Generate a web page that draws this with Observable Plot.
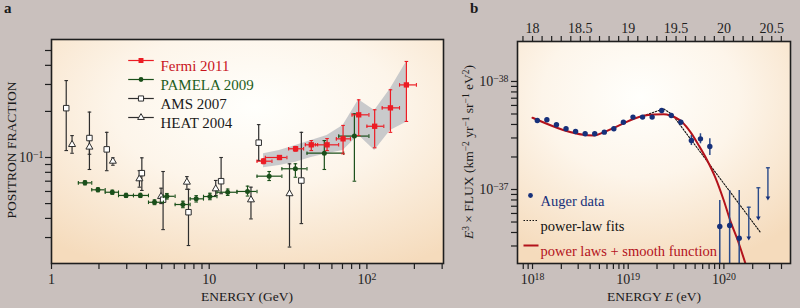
<!DOCTYPE html>
<html><head><meta charset="utf-8">
<script src="https://cdn.jsdelivr.net/npm/d3@7"></script>
<script src="https://cdn.jsdelivr.net/npm/@observablehq/plot@0.6"></script>
<style>
html,body{margin:0;padding:0;background:#c9c0bd;}
#wrap{position:relative;width:800px;height:308px;background:#c9c0bd;font-family:"Liberation Serif",serif;overflow:hidden;}
#wrap svg{position:absolute;top:0;}
.abs{position:absolute;white-space:nowrap;color:#1a1a1a;font-size:13.5px;line-height:1;}
.rot{transform:translate(-50%,-50%) rotate(-90deg);}
.ctr{transform:translate(-50%,-50%);}
sup{font-size:70%;line-height:0;vertical-align:0.45em;}
</style></head><body><div id="wrap"></div>
<script>
// ---------------- Panel a data ----------------
const amsE  = [1.24, 1.74, 2.24, 3.74, 5.1, 7.39, 11.9, 20.6, 38.4];
const amsV  = [0.210, 0.134, 0.113, 0.079, 0.053, 0.0439, 0.070, 0.125, 0.0707];
const amsLo = [0.111, 0.0835, 0.082, 0.0609, 0.0338, 0.0266, 0.058, 0.0956, 0.037];
const amsHi = [0.318, 0.198, 0.146, 0.0995, 0.081, 0.062, 0.1, 0.164, 0.146];

const heatE  = [1.35, 1.74, 2.45, 3.61, 4.95, 7.22, 11.0, 18.4, 32.3];
const heatV  = [0.1216, 0.117, 0.0946, 0.0726, 0.0556, 0.069, 0.0624, 0.0529, 0.058];
const heatLo = [0.1066, 0.105, 0.089, 0.064, 0.050, 0.062, 0.0564, 0.0397, 0.026];
const heatHi = [0.139, 0.13, 0.0995, 0.082, 0.063, 0.075, 0.0708, 0.064, 0.0909];

const pamE   = [1.63, 1.97, 2.43, 2.97, 3.66, 4.50, 5.39, 6.81, 8.27, 10.1, 13.1, 17.5, 24.0, 35.2, 53.7, 83.3];
const pamV   = [0.0683, 0.0615, 0.0593, 0.0565, 0.0565, 0.0510, 0.0558, 0.0493, 0.0537, 0.0556, 0.0593, 0.060, 0.0755, 0.0844, 0.1067, 0.138];
const pamLo  = [0.0662, 0.0597, 0.0575, 0.0548, 0.0548, 0.0492, 0.0535, 0.0470, 0.0512, 0.0530, 0.0565, 0.0560, 0.0707, 0.0743, 0.0835, 0.070];
const pamHi  = [0.0705, 0.0634, 0.0612, 0.0583, 0.0583, 0.0529, 0.0582, 0.0518, 0.0563, 0.0584, 0.0622, 0.0650, 0.081, 0.091, 0.129, 0.193];
const pamXlo = [1.48, 1.80, 2.19, 2.66, 3.31, 4.12, 5.13, 6.08, 7.57, 9.20, 11.2, 15.0, 20.1, 28.9, 41.7, 66.3];
const pamXhi = [1.80, 2.19, 2.66, 3.31, 4.12, 5.13, 6.08, 7.57, 9.20, 11.2, 15.0, 20.1, 28.9, 41.7, 71.3, 103];

const fermiE   = [22.1, 27.9, 35.3, 44.4, 55.9, 70.6, 88.7, 112, 141, 178];
const fermiV   = [0.0946, 0.100, 0.114, 0.121, 0.121, 0.1324, 0.190, 0.160, 0.211, 0.298];
const fermiLo  = [0.091, 0.097, 0.110, 0.111, 0.111, 0.1057, 0.139, 0.1157, 0.146, 0.172];
const fermiHi  = [0.098, 0.103, 0.118, 0.129, 0.133, 0.162, 0.238, 0.205, 0.277, 0.424];
const fermiXlo = [20.1, 22.7, 31.9, 40.7, 47.1, 64, 80.5, 100, 125, 161];
const fermiXhi = [25.0, 31.1, 39.7, 48.7, 66.2, 78.6, 103, 128, 161, 206];

const bandE  = [22.1, 27.9, 35.3, 44.4, 55.9, 70.6, 88.7, 112, 141, 178];
const bandLo = [0.0856, 0.0887, 0.093, 0.100, 0.1057, 0.111, 0.14, 0.111, 0.15, 0.17];
const bandHi = [0.1057, 0.111, 0.12, 0.129, 0.139, 0.162, 0.238, 0.203, 0.281, 0.42];

const legendA = ["Fermi 2011", "PAMELA 2009", "AMS 2007", "HEAT 2004"];
const xTicksA = [1,2,3,4,5,6,7,8,9,10,20,30,40,50,60,70,80,90,100,200,300];
const xLabelsA = {1:"1", 10:"10", 100:"10^2"};
const yTicksA = [0.03,0.04,0.05,0.06,0.07,0.08,0.09,0.1,0.2,0.3,0.4,0.5];
const yLabelsA = {0.1:"10^−1"};

// ---------------- Panel b data (log10 values) ----------------
const augLgE = [18.05,18.15,18.25,18.35,18.45,18.55,18.65,18.75,18.85,18.95,19.05,19.15,19.25,19.35,19.45,19.55,19.66,19.755,19.853,19.957,20.06,20.16];
const augLg  = [37.639,37.645,37.599,37.562,37.537,37.516,37.516,37.531,37.562,37.623,37.670,37.670,37.670,37.731,37.685,37.623,37.454,37.469,37.398,36.657,36.667,36.549];
const augLo  = [37.625,37.631,37.585,37.548,37.523,37.502,37.502,37.517,37.548,37.609,37.656,37.656,37.655,37.715,37.668,37.605,37.407,37.423,37.315,36.0,36.0,36.0];
const augHi  = [37.653,37.659,37.613,37.576,37.551,37.530,37.530,37.545,37.576,37.637,37.684,37.684,37.685,37.747,37.702,37.641,37.500,37.516,37.469,36.898,36.991,36.991];
const ulLgE  = [20.26, 20.36, 20.46];
const ulTop  = [36.836, 37.016, 37.201];
const ulTip  = [36.543, 36.729, 36.914];
const redLgE = [18.0, 18.64, 18.745, 18.85, 18.955, 19.06, 19.16, 19.27, 19.37, 19.44, 19.565, 19.651, 19.738, 19.826, 19.912, 19.999, 20.069, 20.139, 20.226];
const redLg  = [37.664, 37.50, 37.531, 37.571, 37.614, 37.655, 37.682, 37.694, 37.697, 37.685, 37.623, 37.531, 37.407, 37.269, 37.108, 36.898, 36.705, 36.544, 36.312];
const dotLgE = [19.16, 19.268, 19.37, 19.46, 20.38];
const dotLg  = [37.682, 37.716, 37.747, 37.694, 36.605];
const legendB = ["Auger data", "power-law fits", "power laws + smooth function"];
const topTicksB = [17.9,18.0,18.1,18.2,18.3,18.4,18.5,18.6,18.7,18.8,18.9,19.0,19.1,19.2,19.3,19.4,19.5,19.6,19.7,19.8,19.9,20.0,20.1,20.2,20.3,20.4,20.5,20.6];
const topLabelsB = {"18.0":"18","18.5":"18.5","19.0":"19","19.5":"19.5","20.0":"20","20.5":"20.5"};
const botTicksB = [8e17,9e17,1e18,2e18,3e18,4e18,5e18,6e18,7e18,8e18,9e18,1e19,2e19,3e19,4e19,5e19,6e19,7e19,8e19,9e19,1e20,2e20,3e20,4e20];
const botLabelsB = {"18":"10^18","19":"10^19","20":"10^20"};
const yTicksB = [3e36,4e36,5e36,6e36,7e36,8e36,9e36,1e37,2e37,3e37,4e37,5e37,6e37,7e37,8e37,9e37,1e38];
const yLabelsB = {"37":"10^−37","38":"10^−38"};

// ---------------- build tables ----------------
const ams = amsE.map((E,i)=>({E, v:amsV[i], lo:amsLo[i], hi:amsHi[i]}));
const heat = heatE.map((E,i)=>({E, v:heatV[i], lo:heatLo[i], hi:heatHi[i]}));
const pam = pamE.map((E,i)=>({E, v:pamV[i], lo:pamLo[i], hi:pamHi[i], xlo:pamXlo[i], xhi:pamXhi[i]}));
const fermi = fermiE.map((E,i)=>({E, v:fermiV[i], lo:fermiLo[i], hi:fermiHi[i], xlo:fermiXlo[i], xhi:fermiXhi[i]}));
const band = bandE.map((E,i)=>({E, lo:bandLo[i], hi:bandHi[i]}));
const P = v => Math.pow(10, v);
const aug = augLgE.map((e,i)=>({E:P(e), v:P(augLg[i]), lo:P(augLo[i]), hi:P(augHi[i])}));
const ul = ulLgE.map((e,i)=>({E:P(e), top:P(ulTop[i]), tip:P(ulTip[i])}));
const red = redLgE.map((e,i)=>({E:P(e), v:P(redLg[i])}));
const dotted = dotLgE.map((e,i)=>({E:P(e), v:P(dotLg[i])}));

// custom symbols
const capH = {draw(ctx,size){const w=Math.sqrt(size/Math.PI); ctx.moveTo(-w,0); ctx.lineTo(w,0);}};
const capV = {draw(ctx,size){const w=Math.sqrt(size/Math.PI); ctx.moveTo(0,-w); ctx.lineTo(0,w);}};
const lineSym = {draw(ctx,size){const w=Math.sqrt(size/Math.PI); ctx.moveTo(-w,0); ctx.lineTo(w,0);}};

const RED="#ec1c24", REDT="#c8141c", GRN="#1a4f1a", GRNT="#1f5e22", GRY="#2e2e2e", NAVY="#16307a", CRV="#b3121b";
const style = {background:"transparent", fontFamily:"'Liberation Serif', serif", fontSize:"14px", color:"#1e1e1e", overflow:"visible"};

function errMarks(data, color, opts={}){
  const m = [
    Plot.ruleX(data, {x:"E", y1:"lo", y2:"hi", stroke:color, strokeWidth:1.2, clip:true}),
    Plot.dot(data, {x:"E", y:"lo", symbol:capH, r:1.8, stroke:color, strokeWidth:1.1, fill:"none", clip:true}),
    Plot.dot(data, {x:"E", y:"hi", symbol:capH, r:1.8, stroke:color, strokeWidth:1.1, fill:"none", clip:true})
  ];
  if (opts.xerr) m.push(
    Plot.ruleY(data, {y:"v", x1:"xlo", x2:"xhi", stroke:color, strokeWidth:1.2}),
    Plot.dot(data, {x:"xlo", y:"v", symbol:capV, r:1.8, stroke:color, strokeWidth:1.1, fill:"none"}),
    Plot.dot(data, {x:"xhi", y:"v", symbol:capV, r:1.8, stroke:color, strokeWidth:1.1, fill:"none"})
  );
  return m;
}

const legA = [
  {c:RED, t:REDT, sym:"square", fill:RED, stroke:"none", r:2.8},
  {c:GRN, t:GRNT, sym:"circle", fill:GRN, stroke:"none", r:2.4},
  {c:GRY, t:"#1a1a1a", sym:"square", fill:"#fff", stroke:GRY, r:2.9},
  {c:GRY, t:"#1a1a1a", sym:"triangle", fill:"#fff", stroke:GRY, r:2.5}
];
const legendMarksA = legA.flatMap((d,i)=>[
  Plot.dot([0], {frameAnchor:"top-left", dx:89.5, dy:21+19*i, symbol:lineSym, r:12.8, stroke:d.c, strokeWidth:1.2, fill:"none"}),
  Plot.dot([0], {frameAnchor:"top-left", dx:89.5, dy:21+19*i, symbol:d.sym, r:d.r, fill:d.fill, stroke:d.stroke, strokeWidth:1}),
  Plot.text([legendA[i]], {frameAnchor:"top-left", dx:109, dy:21+19*i, text:d=>d, textAnchor:"start", fill:d.t, fontSize:15})
]);

const plotA = Plot.plot({
  width:450, height:308, marginLeft:51, marginRight:7, marginTop:39, marginBottom:45,
  style,
  x:{type:"log", domain:[1,306]},
  y:{type:"log", domain:[0.0203,0.59]},
  marks:[
    Plot.frame({fill:"url(#gA)"}),
    Plot.areaY(band, {x:"E", y1:"lo", y2:"hi", fill:"#c6c7c9", fillOpacity:0.95}),
    ...errMarks(ams, GRY),
    ...errMarks(heat, GRY),
    Plot.dot(heat, {x:"E", y:"v", symbol:"triangle", r:2.6, fill:"#fff", stroke:GRY, strokeWidth:1}),
    Plot.dot(ams, {x:"E", y:"v", symbol:"square", r:3.1, fill:"#fff", stroke:GRY, strokeWidth:1}),
    ...errMarks(pam, GRN, {xerr:true}),
    Plot.dot(pam, {x:"E", y:"v", r:2.5, fill:GRN}),
    ...errMarks(fermi, RED, {xerr:true}),
    Plot.dot(fermi, {x:"E", y:"v", symbol:"square", r:3.0, fill:RED}),
    ...legendMarksA,
    Plot.axisX({ticks:xTicksA, tickSize:6, tickPadding:5, tickFormat:d=>xLabelsA[d]||"", label:null, strokeWidth:1.2, fontSize:14}),
    Plot.axisY({ticks:yTicksA, tickSize:6, tickPadding:2, tickFormat:d=>yLabelsA[d]||"", label:null, strokeWidth:1.2, fontSize:14}),
    Plot.frame({stroke:"#1e1e1e", strokeWidth:1.6})
  ]
});

const legendMarksB = [
  Plot.dot([0], {frameAnchor:"top-left", dx:13, dy:154, r:2.4, fill:NAVY}),
  Plot.text([legendB[0]], {frameAnchor:"top-left", dx:23, dy:154, text:d=>d, textAnchor:"start", fill:NAVY, fontSize:14.5}),
  Plot.dot([0], {frameAnchor:"top-left", dx:13.5, dy:179, symbol:lineSym, r:7.5, stroke:"#111", strokeWidth:1.1, strokeDasharray:"1.5,1.5", fill:"none"}),
  Plot.text([legendB[1]], {frameAnchor:"top-left", dx:23, dy:179, text:d=>d, textAnchor:"start", fill:"#111", fontSize:14.5}),
  Plot.dot([0], {frameAnchor:"top-left", dx:13.5, dy:204, symbol:lineSym, r:7.5, stroke:CRV, strokeWidth:2, fill:"none"}),
  Plot.text([legendB[2]], {frameAnchor:"top-left", dx:23, dy:204, text:d=>d, textAnchor:"start", fill:CRV, fontSize:14.5})
];

const plotB = Plot.plot({
  width:350, height:308, marginLeft:67, marginRight:10, marginTop:41, marginBottom:45,
  style,
  x:{type:"log", domain:[P(17.843), P(20.696)]},
  y:{type:"log", domain:[P(36.315), P(38.37)]},
  marks:[
    Plot.frame({fill:"url(#gB)"}),
    Plot.line(dotted, {x:"E", y:"v", stroke:"#111", strokeWidth:1.1, strokeDasharray:"1.5,1.6", clip:true}),
    Plot.line(red, {x:"E", y:"v", stroke:CRV, strokeWidth:2, curve:"monotone-x", clip:true}),
    Plot.ruleX(aug, {x:"E", y1:"lo", y2:"hi", stroke:"#2a4a8a", strokeWidth:1.5, clip:true}),
    Plot.dot(aug, {x:"E", y:"v", r:2.7, fill:NAVY}),
    Plot.ruleX(ul, {x:"E", y1:"tip", y2:"top", stroke:"#2a4a8a", strokeWidth:1.4}),
    Plot.dot(ul, {x:"E", y:"top", symbol:capH, r:2, stroke:"#2a4a8a", strokeWidth:1.3, fill:"none"}),
    Plot.dot(ul, {x:"E", y:"tip", symbol:"triangle2", r:2.2, rotate:180, fill:NAVY, dy:-1}),
    ...legendMarksB,
    Plot.axisX({ticks:botTicksB, tickSize:6, tickPadding:5, tickFormat:d=>botLabelsB[String(Math.round(Math.log10(d)*1000)/1000)]||"", label:null, strokeWidth:1.2, fontSize:14}),
    Plot.axisX({anchor:"top", ticks:topTicksB.map(P), tickSize:6, tickPadding:3, tickFormat:d=>topLabelsB[Math.log10(d).toFixed(1)]||"", label:null, strokeWidth:1.2, fontSize:14}),
    Plot.axisY({ticks:yTicksB, tickSize:6, tickPadding:3, tickFormat:d=>yLabelsB[String(Math.round(Math.log10(d)*1000)/1000)]||"", label:null, strokeWidth:1.2, fontSize:14}),
    Plot.frame({stroke:"#1e1e1e", strokeWidth:1.6})
  ]
});

function post(svg, id, cx, cy){
  const s = d3.select(svg);
  s.insert("defs", ":first-child").html(
    `<radialGradient id="${id}" cx="${cx}" cy="${cy}" r="0.8" fx="${cx}" fy="${cy}">
      <stop offset="0" stop-color="#fffffc"/>
      <stop offset="0.45" stop-color="#fdf5ea"/>
      <stop offset="1" stop-color="#f5dbbc"/>
    </radialGradient>`);
  s.selectAll("text").each(function(){
    const t = this.textContent;
    if (t === "" ) { this.remove(); return; }
    const m = t.match(/^(.*)\^(.*)$/);
    if (!m) return;
    const el = d3.select(this); el.text("");
    el.append("tspan").text(m[1]);
    el.append("tspan").attr("dy","-0.45em").attr("font-size","0.7em").text(m[2]);
  });
}
post(plotA, "gA", 0.52, 0.3);
post(plotB, "gB", 0.45, 0.25);

const wrap = document.getElementById("wrap");
plotA.style.left = "0px";
plotB.style.left = "450px";
wrap.appendChild(plotA);
wrap.appendChild(plotB);

const labels = [
  {html:"<b>a</b>", x:4, y:1, cls:"", fs:15},
  {html:"<b>b</b>", x:470, y:1, cls:"", fs:15},
  {html:"POSITRON FRACTION", x:12, y:150, cls:"rot", fs:13.5},
  {html:"ENERGY (GeV)", x:247, y:297, cls:"ctr", fs:13.5},
  {html:"ENERGY <i>E</i> (eV)", x:654, y:297, cls:"ctr", fs:13.5},
  {html:"<i>E</i><sup>3</sup> × FLUX (km<sup>−2</sup> yr<sup>−1</sup> sr<sup>−1</sup> eV<sup>2</sup>)", x:469, y:152, cls:"rot", fs:13.5}
];
for (const l of labels){
  const d = document.createElement("div");
  d.className = "abs " + l.cls;
  d.style.left = l.x + "px"; d.style.top = l.y + "px"; d.style.fontSize = l.fs + "px";
  d.innerHTML = l.html;
  wrap.appendChild(d);
}
</script></body></html>
